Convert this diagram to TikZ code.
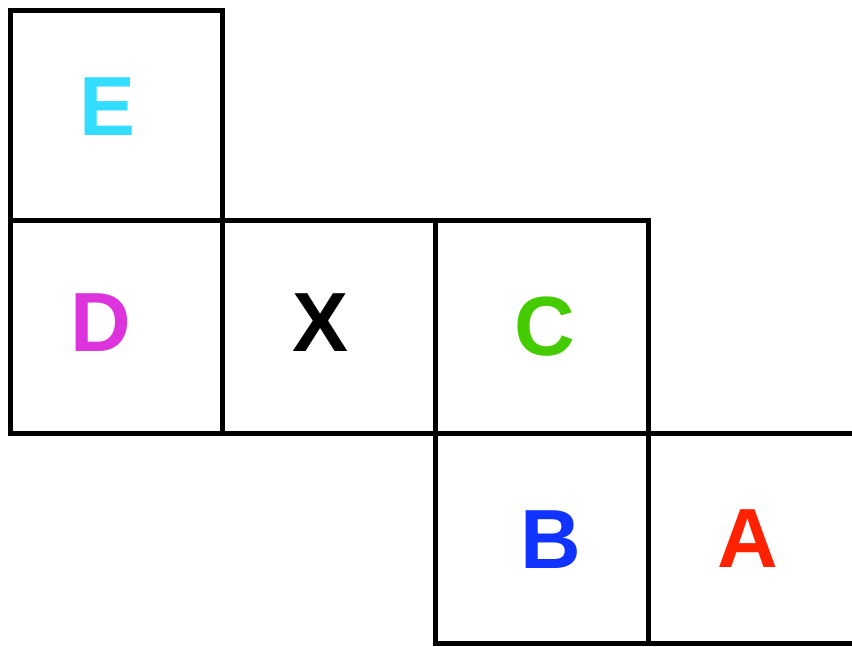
\documentclass[tikz,border=0pt]{standalone}
\usepackage{fontspec}
\setmainfont{Liberation Sans}
\definecolor{colE}{RGB}{51,221,255}
\definecolor{colD}{RGB}{221,51,221}
\definecolor{colC}{RGB}{68,204,0}
\definecolor{colB}{RGB}{17,51,255}
\definecolor{colA}{RGB}{255,34,0}
\begin{document}
\begin{tikzpicture}[x=1pt,y=-1pt,
  edge/.style={line width=5pt,black,line join=miter},
  letter/.style={inner sep=0pt,font=\fontsize{84}{84}\selectfont\bfseries}]
\useasboundingbox (0,0) rectangle (852,646);
\draw[edge] (10,10) rectangle (222,220);
\draw[edge] (10,220) rectangle (222,433);
\draw[edge] (222,220) rectangle (435,433);
\draw[edge] (435,220) rectangle (648,433);
\draw[edge] (435,433) rectangle (648,643);
\draw[edge] (856,433) -- (648,433) -- (648,643) -- (856,643);
\node[letter,text=colE] (e) at (108,107) {E};
\node[letter,text=colD] (d) at (101,323) {D};
\node[letter,text=black] (x) at (321,323) {X};
\node[letter,text=colC] (c) at (545,327) {C};
\node[letter,text=colB] (b) at (551,540) {B};
\node[letter,text=colA] (a) at (748,539) {A};
\end{tikzpicture}
\end{document}
